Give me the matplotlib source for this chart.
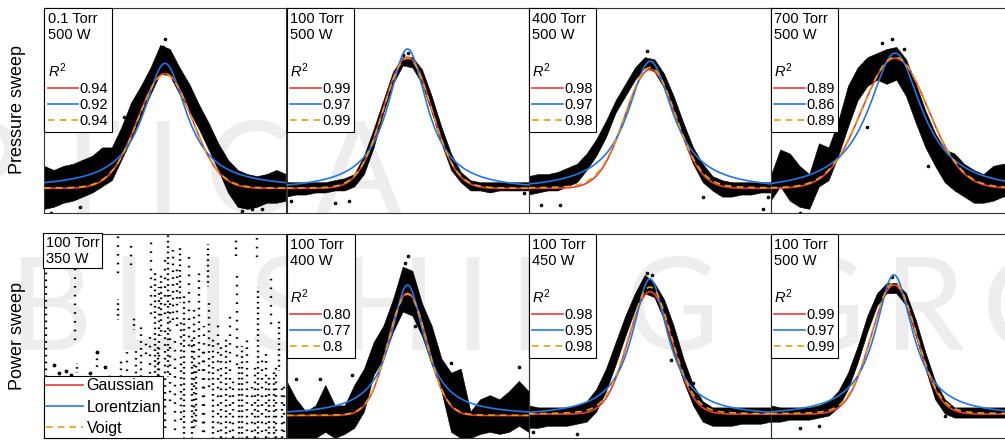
import numpy as np
import matplotlib.pyplot as plt
from matplotlib.lines import Line2D
from matplotlib.offsetbox import AnchoredText
from matplotlib.font_manager import FontProperties

plt.rcParams['font.family'] = ['Liberation Sans', 'DejaVu Sans']
plt.rcParams['mathtext.fontset'] = 'custom'
plt.rcParams['mathtext.rm'] = 'Liberation Sans'
plt.rcParams['mathtext.it'] = 'Liberation Sans:italic'

# ---- spectra: normalised wavelength grid shared by all panels ----
grid = np.linspace(0, 1, 26)

titles = ['0.1 Torr\n500 W', '100 Torr\n500 W', '400 Torr\n500 W', '700 Torr\n500 W',
          '100 Torr\n350 W', '100 Torr\n400 W', '100 Torr\n450 W', '100 Torr\n500 W']

r2_gauss = ['0.94', '0.99', '0.98', '0.89', None, '0.80', '0.98', '0.99']
r2_lorentz = ['0.92', '0.97', '0.97', '0.86', None, '0.77', '0.95', '0.97']
r2_voigt = ['0.94', '0.99', '0.98', '0.89', None, '0.8', '0.98', '0.99']

# measured emission: lower / upper edge of the point cloud on the grid
band_lo = [
    [0.02, 0.03, 0.05, 0.06, 0.08, 0.10, 0.13, 0.16, 0.26, 0.36, 0.47, 0.58, 0.68,
     0.67, 0.58, 0.50, 0.41, 0.31, 0.21, 0.10, 0.03, 0.02, 0.03, 0.05, 0.05, 0.06],
    [0.08, 0.09, 0.09, 0.10, 0.10, 0.11, 0.11, 0.13, 0.19, 0.32, 0.49, 0.63, 0.72,
     0.71, 0.63, 0.49, 0.34, 0.21, 0.15, 0.11, 0.11, 0.10, 0.11, 0.11, 0.11, 0.11],
    [0.09, 0.10, 0.11, 0.11, 0.13, 0.15, 0.21, 0.28, 0.37, 0.49, 0.57, 0.65, 0.71,
     0.69, 0.61, 0.49, 0.36, 0.24, 0.15, 0.11, 0.08, 0.08, 0.09, 0.09, 0.10, 0.10],
    [0.06, 0.13, 0.06, 0.03, 0.02, 0.13, 0.16, 0.28, 0.42, 0.55, 0.62, 0.65, 0.63,
     0.65, 0.57, 0.44, 0.32, 0.23, 0.15, 0.11, 0.08, 0.05, 0.05, 0.06, 0.08, 0.08],
    None,
    [0.00, 0.00, 0.00, 0.00, 0.03, 0.00, 0.02, 0.05, 0.13, 0.31, 0.39, 0.52, 0.62,
     0.60, 0.50, 0.36, 0.23, 0.03, 0.00, 0.00, 0.02, 0.03, 0.02, 0.03, 0.06, 0.03],
    [0.05, 0.05, 0.06, 0.06, 0.06, 0.07, 0.08, 0.13, 0.23, 0.36, 0.50, 0.63, 0.71,
     0.69, 0.58, 0.42, 0.28, 0.16, 0.08, 0.06, 0.06, 0.06, 0.07, 0.07, 0.07, 0.08],
    [0.08, 0.08, 0.09, 0.09, 0.09, 0.10, 0.11, 0.15, 0.24, 0.37, 0.52, 0.65, 0.71,
     0.71, 0.65, 0.50, 0.34, 0.19, 0.12, 0.10, 0.10, 0.10, 0.10, 0.10, 0.10, 0.10],
]
band_hi = [
    [0.23, 0.21, 0.23, 0.24, 0.26, 0.28, 0.32, 0.32, 0.42, 0.54, 0.62, 0.71, 0.82,
     0.80, 0.71, 0.63, 0.53, 0.44, 0.34, 0.26, 0.21, 0.19, 0.18, 0.19, 0.21, 0.19],
    [0.15, 0.15, 0.15, 0.15, 0.15, 0.16, 0.17, 0.19, 0.28, 0.41, 0.55, 0.69, 0.76,
     0.76, 0.70, 0.57, 0.42, 0.29, 0.20, 0.16, 0.15, 0.15, 0.15, 0.15, 0.15, 0.15],
    [0.18, 0.19, 0.19, 0.20, 0.22, 0.24, 0.29, 0.36, 0.45, 0.55, 0.63, 0.71, 0.76,
     0.75, 0.68, 0.57, 0.44, 0.32, 0.24, 0.18, 0.16, 0.15, 0.15, 0.15, 0.15, 0.15],
    [0.18, 0.31, 0.29, 0.23, 0.19, 0.34, 0.32, 0.45, 0.62, 0.71, 0.76, 0.78, 0.80,
     0.81, 0.75, 0.63, 0.50, 0.39, 0.31, 0.29, 0.24, 0.21, 0.19, 0.23, 0.24, 0.23],
    None,
    [0.28, 0.19, 0.13, 0.16, 0.26, 0.16, 0.16, 0.26, 0.34, 0.47, 0.55, 0.68, 0.84,
     0.82, 0.66, 0.55, 0.39, 0.32, 0.34, 0.13, 0.19, 0.21, 0.19, 0.23, 0.28, 0.23],
    [0.16, 0.15, 0.15, 0.15, 0.15, 0.16, 0.18, 0.24, 0.34, 0.47, 0.60, 0.71, 0.80,
     0.76, 0.68, 0.55, 0.39, 0.26, 0.18, 0.15, 0.15, 0.15, 0.15, 0.15, 0.15, 0.15],
    [0.16, 0.15, 0.15, 0.15, 0.15, 0.16, 0.18, 0.23, 0.32, 0.45, 0.60, 0.71, 0.76,
     0.76, 0.71, 0.58, 0.42, 0.28, 0.19, 0.15, 0.15, 0.15, 0.15, 0.15, 0.15, 0.15],
]

# isolated points outside the main cloud (x, y)
stray_x = [
    [0.50, 0.49, 0.51, 0.47, 0.82, 0.86, 0.15, 0.03, 0.90, 0.33],
    [0.20, 0.26, 0.02, 0.98, 0.50, 0.48],
    [0.05, 0.13, 0.72, 0.97, 0.49, 0.99],
    [0.50, 0.46, 0.55, 0.65, 0.25, 0.12, 0.40],
    [0.06, 0.09, 0.19, 0.25, 0.27, 0.04, 0.11, 0.22],
    [0.50, 0.49, 0.04, 0.68, 0.53, 0.14, 0.27, 0.96],
    [0.49, 0.51, 0.59, 0.20, 0.02, 0.68],
    [0.50, 0.12, 0.20, 0.98, 0.72],
]
stray_y = [
    [0.85, 0.81, 0.79, 0.76, 0.01, 0.02, 0.03, 0.00, 0.02, 0.47],
    [0.05, 0.06, 0.06, 0.10, 0.78, 0.77],
    [0.04, 0.04, 0.08, 0.02, 0.79, 0.08],
    [0.85, 0.83, 0.80, 0.23, 0.44, 0.00, 0.42],
    [0.32, 0.33, 0.32, 0.35, 0.30, 0.36, 0.31, 0.42],
    [0.89, 0.86, 0.29, 0.37, 0.55, 0.29, 0.31, 0.35],
    [0.81, 0.80, 0.38, 0.02, 0.03, 0.27],
    [0.79, 0.05, 0.06, 0.13, 0.11],
]

# 350 W: signal lost in noise, vertical streaks of points (x, y_low, y_high)
streak_x = [0.008, 0.13, 0.135, 0.217, 0.306, 0.306, 0.32, 0.36, 0.37, 0.40, 0.443, 0.457,
            0.477, 0.498, 0.512, 0.532, 0.54, 0.56, 0.567, 0.60, 0.61, 0.642, 0.656, 0.676,
            0.683, 0.717, 0.75, 0.793, 0.796, 0.807, 0.84, 0.882, 0.886, 0.916, 0.937, 0.95,
            0.985, 0.42, 0.628, 0.78, 0.86, 0.97, 0.38, 0.44, 0.47, 0.50, 0.52, 0.58, 0.62,
            0.66, 0.70, 0.73, 0.77, 0.82, 0.87, 0.90, 0.93, 0.96, 0.99, 0.485, 0.55, 0.345]
streak_lo = [0.30, 0.45, 0.32, 0.35, 0.78, 0.58, 0.30, 0.82, 0.53, 0.30, 0.58, 0.30,
             0.30, 0.58, 0.30, 0.58, 0.01, 0.66, 0.09, 0.42, 0.00, 0.33, 0.00, 0.74,
             0.25, 0.00, 0.00, 0.89, 0.33, 0.00, 0.00, 0.86, 0.00, 0.00, 0.53, 0.00,
             0.00, 0.38, 0.06, 0.00, 0.00, 0.33, 0.25, 0.20, 0.10, 0.05, 0.15, 0.00, 0.05,
             0.00, 0.00, 0.00, 0.00, 0.00, 0.00, 0.00, 0.00, 0.00, 0.00, 0.50, 0.55, 0.30]
streak_hi = [0.86, 0.84, 0.37, 0.42, 0.99, 0.68, 0.38, 0.97, 0.60, 0.55, 0.97, 0.82,
             0.74, 0.90, 1.00, 0.92, 0.50, 0.94, 0.58, 0.90, 0.50, 0.82, 0.45, 0.95,
             0.66, 0.58, 0.50, 0.99, 0.81, 0.37, 0.50, 0.99, 0.74, 0.42, 0.81, 0.33,
             0.25, 0.48, 0.37, 0.29, 0.25, 0.58, 0.45, 0.50, 0.45, 0.55, 0.70, 0.70, 0.65,
             0.55, 0.50, 0.45, 0.60, 0.45, 0.35, 0.40, 0.30, 0.35, 0.28, 0.80, 0.85, 0.45]

# fitted line shapes: baseline, amplitude, centre, width
gauss_fit = [(0.12, 0.56, 0.50, 0.112), (0.12, 0.64, 0.50, 0.100), (0.12, 0.58, 0.503, 0.105),
             (0.12, 0.635, 0.515, 0.137), None, (0.11, 0.60, 0.50, 0.080),
             (0.117, 0.60, 0.502, 0.090), (0.117, 0.633, 0.51, 0.094)]
lorentz_fit = [(0.12, 0.61, 0.50, 0.110), (0.11, 0.69, 0.50, 0.100), (0.11, 0.63, 0.503, 0.115),
               (0.10, 0.68, 0.515, 0.135), None, (0.11, 0.64, 0.50, 0.085),
               (0.105, 0.675, 0.502, 0.090), (0.105, 0.695, 0.51, 0.095)]
# voigt: baseline, amplitude, centre, gaussian sigma, lorentz fraction
voigt_fit = [(0.12, 0.555, 0.50, 0.112, 0.05), (0.12, 0.635, 0.50, 0.100, 0.05),
             (0.12, 0.59, 0.503, 0.105, 0.10), (0.12, 0.64, 0.515, 0.137, 0.05), None,
             (0.11, 0.595, 0.50, 0.080, 0.05), (0.115, 0.625, 0.502, 0.090, 0.15),
             (0.117, 0.643, 0.51, 0.094, 0.10)]

RED = '#ee3a3a'
BLUE = '#2277e6'
GOLD = '#e0a010'
DOTS = [(0, (0.7, 2.2)), (1.2, (0.7, 3.0)), (0.5, (0.7, 1.6))]
W, H = 1005, 440


def gauss(x, b, a, c, s):
    return b + a * np.exp(-(x - c) ** 2 / (2 * s ** 2))


def lorentz(x, b, a, c, g):
    return b + a / (1 + ((x - c) / g) ** 2)


def voigt(x, b, a, c, s, eta):
    g = 1.1774 * s
    return b + a * (eta / (1 + ((x - c) / g) ** 2) + (1 - eta) * np.exp(-(x - c) ** 2 / (2 * s ** 2)))


def fit_handles():
    return [Line2D([], [], color=RED, lw=1.2),
            Line2D([], [], color=BLUE, lw=1.2),
            Line2D([], [], color=GOLD, lw=1.2, ls=(0, (4, 3)))]


fig = plt.figure(figsize=(W / 100, H / 100), dpi=100)
renderer = fig.canvas.get_renderer()

# faint letter-spaced watermark behind the panels
wm_font = FontProperties(family=['Lato', 'DejaVu Sans'], size=93)


def wide_text(s, x_px, y_px, gap, anchor_right=False):
    widths = []
    for ch in s:
        if ch == ' ':
            widths.append(0.12 * 93 * 100 / 72)
        else:
            widths.append(renderer.get_text_width_height_descent(ch, wm_font, ismath=False)[0])
    x = x_px
    if anchor_right:
        x = x_px - sum(widths) - gap * (len(s) - 1)
    for ch, w in zip(s, widths):
        if ch != ' ':
            fig.text(x / W, 1 - y_px / H, ch, fontproperties=wm_font, color='#ededed',
                     ha='left', va='baseline', zorder=-5)
        x += w + gap


wide_text('OPTICA', 402, 214, 24, anchor_right=True)
wide_text('PUBLISHING GROUP', -200, 350, 18)

lefts = [44, 286.5, 528.5, 770.5]
x_fine = np.linspace(0, 1, 400)

for i in range(8):
    row, col = divmod(i, 4)
    top = 8 if row == 0 else 234
    bot = 213 if row == 0 else 438
    ax = fig.add_axes([lefts[col] / W, 1 - bot / H, 242 / W, (bot - top) / H])
    ax.set_facecolor('none')
    ax.set_xlim(0, 1)
    ax.set_ylim(0, 1)
    ax.set_xticks([])
    ax.set_yticks([])
    for sp in ax.spines.values():
        sp.set_color('#333333')
        sp.set_linewidth(0.8)

    if band_lo[i] is None:
        for k in range(len(streak_x)):
            ax.vlines(streak_x[k], streak_lo[k], streak_hi[k], colors='black',
                      linewidth=1.7, linestyles=[DOTS[k % 3]])
        ax.scatter(stray_x[i], stray_y[i], s=3, color='black')
        at = AnchoredText(titles[i], loc='upper left', borderpad=0, pad=0.12,
                          prop=dict(size=10.5), frameon=True)
        at.patch.set_boxstyle('square,pad=0.05')
        at.patch.set_linewidth(0.8)
        at.zorder = 6
        ax.add_artist(at)
        leg = ax.legend(fit_handles(), ['Gaussian', 'Lorentzian', 'Voigt'], loc='lower left',
                        borderaxespad=0, fontsize=11.5, frameon=True, fancybox=False,
                        edgecolor='black', framealpha=1, handlelength=2.35,
                        handletextpad=0.2, borderpad=0.12, labelspacing=0.4)
        leg.get_frame().set_linewidth(0.8)
        continue

    ax.fill_between(grid, band_lo[i], band_hi[i], color='black', lw=0.4, zorder=1)
    ax.scatter(stray_x[i], stray_y[i], s=2.5, color='black', zorder=1)

    ax.plot(x_fine, gauss(x_fine, *gauss_fit[i]), color=RED, lw=1.2, zorder=3)
    ax.plot(x_fine, lorentz(x_fine, *lorentz_fit[i]), color=BLUE, lw=1.2, zorder=3)
    ax.plot(x_fine, voigt(x_fine, *voigt_fit[i]), color=GOLD, lw=1.2, ls=(0, (4, 3)), zorder=4)

    leg = ax.legend(fit_handles(), [r2_gauss[i], r2_lorentz[i], r2_voigt[i]],
                    title=titles[i] + '\n\n$R^2$', title_fontsize=10.5, alignment='left',
                    loc='upper left', bbox_to_anchor=(0, 1), borderaxespad=0,
                    fontsize=10.5, frameon=True, fancybox=False, edgecolor='black',
                    framealpha=1, handlelength=2.1, handletextpad=0.1,
                    borderpad=0.25, labelspacing=0.15)
    leg.get_frame().set_linewidth(0.8)
    leg.set_zorder(6)

fig.text(17 / W, 1 - 110 / H, 'Pressure sweep', rotation=90, ha='center', va='center', fontsize=13)
fig.text(17 / W, 1 - 336 / H, 'Power sweep', rotation=90, ha='center', va='center', fontsize=13)

fig.savefig('out.png', dpi=100, facecolor='white')
